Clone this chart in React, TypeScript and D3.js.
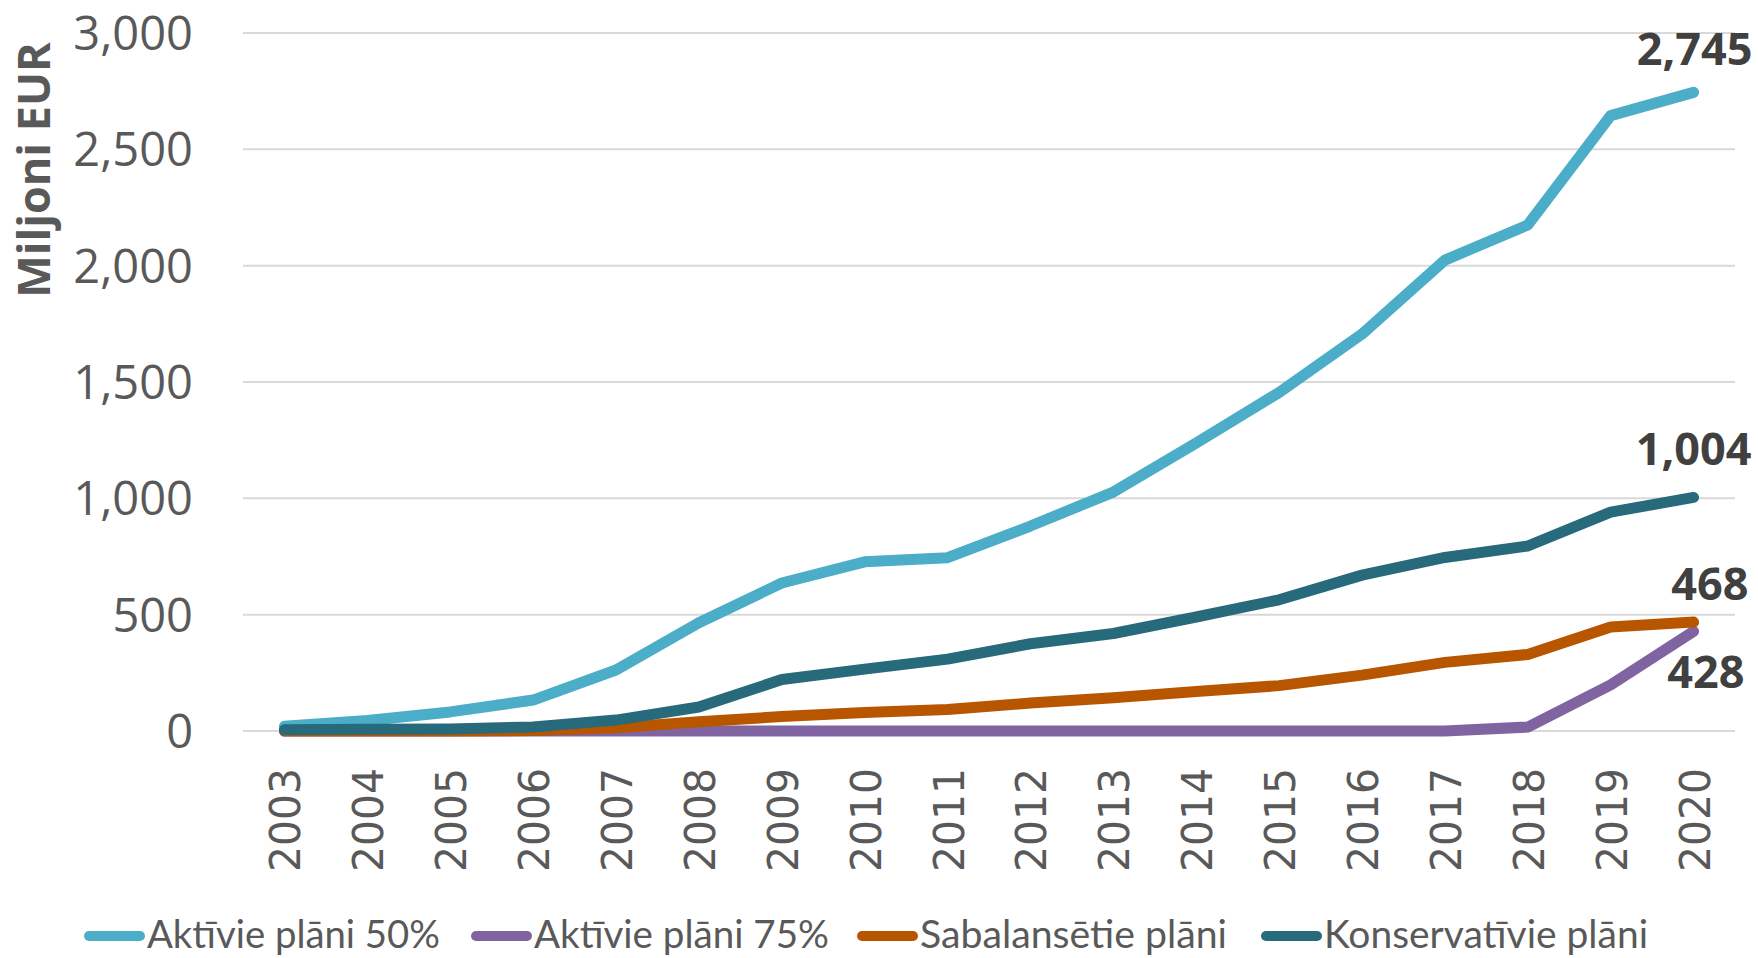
import React from "react";
import * as d3 from "d3";

const years = ["2003","2004","2005","2006","2007","2008","2009","2010","2011","2012","2013","2014","2015","2016","2017","2018","2019","2020"];
const aktivie50 = [20, 45, 82, 133, 262, 465, 636, 727, 745, 881, 1027, 1238, 1455, 1706, 2024, 2175, 2645, 2745];
const aktivie75 = [0, 0, 0, 0, 0, 0, 0, 0, 0, 0, 0, 0, 0, 0, 0, 17, 198, 428];
const sabalansetie = [0, 0, 0, 2, 14, 40, 62, 80, 92, 120, 143, 170, 195, 240, 295, 329, 447, 468];
const konservativie = [5, 7, 9, 17, 47, 103, 221, 266, 309, 375, 419, 490, 564, 670, 746, 795, 941, 1004];
const yTicks = [0, 500, 1000, 1500, 2000, 2500, 3000];

const seriesNames = ["Aktīvie plāni 50%", "Aktīvie plāni 75%", "Sabalansētie plāni", "Konservatīvie plāni"];
const seriesValues = [aktivie50, aktivie75, sabalansetie, konservativie];
const seriesColors = ["#4BADC7", "#8064A2", "#B85600", "#266A7B"];
// end labels: [dx (right edge offset from last point), dy (baseline offset)]
const endLabelOffsets = [[59, -27], [51, 57], [55, -22], [58, -32]];
const legendMarkerX = [84, 471, 857, 1261];
const legendTextLen = [293, 295, 307, 324];

const W = 1758, H = 958;
const plotLeft = 243, plotRight = 1735, plotTop = 33, plotBottom = 731;

export default function App() {
  const x = d3.scalePoint<string>().domain(years).range([plotLeft, plotRight]).padding(0.5);
  const y = d3.scaleLinear().domain([0, 3000]).range([plotBottom, plotTop]);
  const line = d3.line<number>().x((_, i) => x(years[i]) as number).y((d) => y(d));
  const fmt = d3.format(",");

  return (
    <svg width={W} height={H} style={{ position: "absolute", left: 0, top: 0, background: "#fff" }}>
      {yTicks.map((t) => (
        <g key={t}>
          <line x1={plotLeft} x2={plotRight} y1={y(t)} y2={y(t)} stroke="#D9D9D9" strokeWidth={2} />
          <text x={193} y={y(t)} dy="0.36em" textAnchor="end" fontFamily="'Open Sans'" fontSize={47} fill="#595959">
            {fmt(t)}
          </text>
        </g>
      ))}
      <text
        transform={`translate(50,170) rotate(-90)`}
        textAnchor="middle"
        fontFamily="'Open Sans'"
        fontWeight="bold"
        fontSize={45}
        fill="#595959"
      >
        Miljoni EUR
      </text>
      {years.map((yr) => (
        <text
          key={yr}
          transform={`translate(${(x(yr) as number) + 16},768) rotate(-90)`}
          textAnchor="end"
          fontFamily="'DejaVu Sans'"
          fontSize={43}
          fill="#595959"
          textLength={104}
          lengthAdjust="spacingAndGlyphs"
        >
          {yr}
        </text>
      ))}
      {seriesValues.map((vals, i) => (
        <path
          key={i}
          d={line(vals) as string}
          fill="none"
          stroke={seriesColors[i]}
          strokeWidth={11}
          strokeLinecap="round"
          strokeLinejoin="round"
        />
      ))}
      {seriesValues.map((vals, i) => {
        const last = vals[vals.length - 1];
        const px = x(years[years.length - 1]) as number;
        return (
          <text
            key={"l" + i}
            x={px + endLabelOffsets[i][0]}
            y={y(last) + endLabelOffsets[i][1]}
            textAnchor="end"
            fontFamily="'Open Sans'"
            fontWeight="bold"
            fontSize={45}
            fill="#404040"
          >
            {fmt(last)}
          </text>
        );
      })}
      {seriesNames.map((name, i) => (
        <g key={name}>
          <line
            x1={legendMarkerX[i] + 5}
            x2={legendMarkerX[i] + 56}
            y1={936}
            y2={936}
            stroke={seriesColors[i]}
            strokeWidth={10}
            strokeLinecap="round"
          />
          <text
            x={legendMarkerX[i] + 63}
            y={948}
            fontFamily="Lato"
            fontSize={39}
            fill="#595959"
            textLength={legendTextLen[i]}
            lengthAdjust="spacingAndGlyphs"
          >
            {name}
          </text>
        </g>
      ))}
    </svg>
  );
}
